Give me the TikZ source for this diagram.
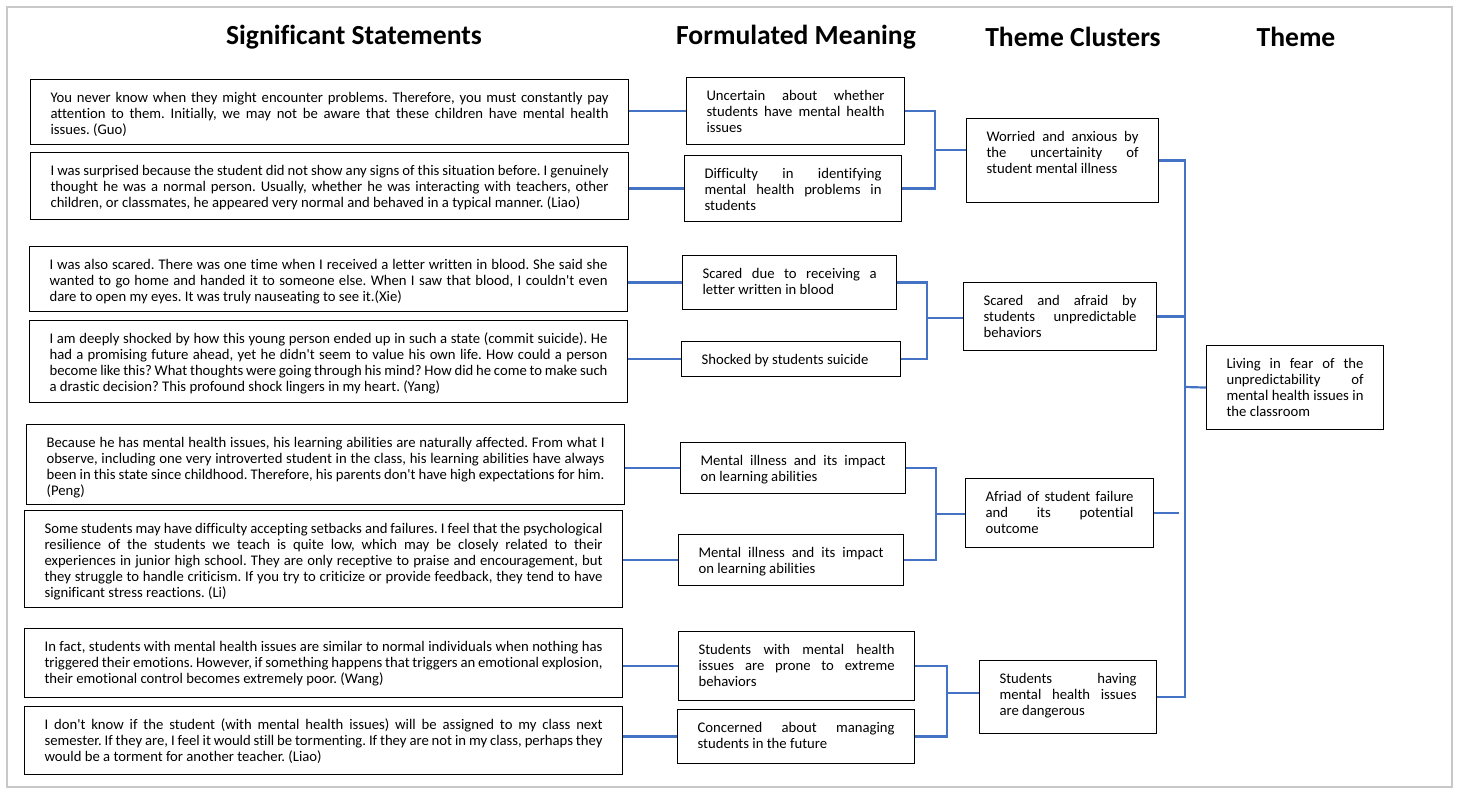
\documentclass[tikz,border=0pt]{standalone}
\usepackage{fontspec}
\setmainfont{Carlito}[Ligatures={TeXOff,CommonOff}]
\usepackage{xcolor}
\definecolor{linkblue}{RGB}{68,114,196}
\definecolor{framegray}{RGB}{200,200,200}
\hbadness=10000
\hfuzz=20pt
\frenchspacing

\begin{document}
\begin{tikzpicture}[x=1pt, y=-1pt,
    box/.style={draw, line width=1.1pt, anchor=north west, align=justify,
        inner xsep=20pt, inner ysep=0pt, text height=23pt,
        font=\fontsize{14.7}{16.1}\selectfont},
    stmt/.style={box, text width=558pt},
    title/.style={font=\fontsize{27.6}{32}\selectfont\bfseries},
    link/.style={linkblue, line width=2.2pt}]
    \useasboundingbox (0,0) rectangle (1460,795);
    % Moldura
    \draw[framegray, line width=1.2pt] (7,7) rectangle (1452,787);
    % Títulos
    \node[title] (h1) at (354,37) {Significant Statements};
    \node[title] (h2) at (796,37) {Formulated Meaning};
    \node[title] (h3) at (1073,37) {Theme Clusters};
    \node[title] (h4) at (1296,37) {Theme};
    % Significant statements
    \node[stmt, text depth=42pt] (s1) at (30,79) {You never know when they might encounter problems. Therefore, you must constantly pay\linebreak attention to them. Initially, we may not be aware that these children have mental health\linebreak issues. (Guo)};
    \node[stmt, text depth=44pt] (s2) at (30,152) {I was surprised because the student did not show any signs of this situation before. I genuinely\linebreak thought he was a normal person. Usually, whether he was interacting with teachers, other\linebreak children, or classmates, he appeared very normal and behaved in a typical manner. (Liao)};
    \node[stmt, text depth=42pt] (s3) at (29,246) {I was also scared. There was one time when I received a letter written in blood. She said she\linebreak wanted to go home and handed it to someone else. When I saw that blood, I couldn't even\linebreak dare to open my eyes. It was truly nauseating to see it.(Xie)};
    \node[stmt, text depth=59pt] (s4) at (29,320) {I am deeply shocked by how this young person ended up in such a state (commit suicide). He\linebreak had a promising future ahead, yet he didn't seem to value his own life. How could a person\linebreak become like this? What thoughts were going through his mind? How did he come to make such\linebreak a drastic decision? This profound shock lingers in my heart. (Yang)};
    \node[stmt, text depth=57pt] (s5) at (26,424) {Because he has mental health issues, his learning abilities are naturally affected. From what I\linebreak observe, including one very introverted student in the class, his learning abilities have always\linebreak been in this state since childhood. Therefore, his parents don't have high expectations for him.\linebreak (Peng)};
    \node[stmt, text depth=74pt] (s6) at (24,510) {Some students may have difficulty accepting setbacks and failures. I feel that the psychological\linebreak resilience of the students we teach is quite low, which may be closely related to their\linebreak experiences in junior high school. They are only receptive to praise and encouragement, but\linebreak they struggle to handle criticism. If you try to criticize or provide feedback, they tend to have\linebreak significant stress reactions. (Li)};
    \node[stmt, text depth=46pt] (s7) at (24,628) {In fact, students with mental health issues are similar to normal individuals when nothing has\linebreak triggered their emotions. However, if something happens that triggers an emotional explosion,\linebreak their emotional control becomes extremely poor. (Wang)};
    \node[stmt, text depth=45pt] (s8) at (24,706) {I don't know if the student (with mental health issues) will be assigned to my class next\linebreak semester. If they are, I feel it would still be tormenting. If they are not in my class, perhaps they\linebreak would be a torment for another teacher. (Liao)};
    % Formulated meaning
    \node[box, text width=178pt, text depth=44pt] (f1) at (686,77) {Uncertain about whether\linebreak students have mental health\linebreak issues};
    \node[box, text width=177pt, text depth=43pt] (f2) at (684,155) {Difficulty in identifying\linebreak mental health problems in\linebreak students};
    \node[box, text width=174pt, text depth=31pt] (f3) at (682,255) {Scared due to receiving a\linebreak letter written in blood};
    \node[box, text width=179pt, text depth=12pt] (f4) at (681,341) {Shocked by students suicide};
    \node[box, text width=185pt, text depth=28pt] (f5) at (680,442) {Mental illness and its impact\linebreak on learning abilities};
    \node[box, text width=185pt, text depth=28pt] (f6) at (678,534) {Mental illness and its impact\linebreak on learning abilities};
    \node[box, text width=196pt, text depth=46pt] (f7) at (678,631) {Students with mental health\linebreak issues are prone to extreme\linebreak behaviors};
    \node[box, text width=197pt, text depth=31pt] (f8) at (677,709) {Concerned about managing\linebreak students in the future};
    % Theme clusters
    \node[box, text width=152pt, text depth=61pt] (c1) at (966,118) {Worried and anxious by\linebreak the uncertainity of\linebreak student mental illness};
    \node[box, text width=153pt, text depth=45pt] (c2) at (963,282) {Scared and afraid by\linebreak students unpredictable\linebreak behaviors};
    \node[box, text width=148pt, text depth=46pt] (c3) at (965,478) {Afriad of student failure\linebreak and its potential\linebreak outcome};
    \node[box, text width=137pt, text depth=50pt] (c4) at (979,660) {Students having\linebreak mental health issues\linebreak are dangerous};
    % Theme
    \node[box, text width=137pt, text depth=61pt] (th) at (1206,345) {Living in fear of the\linebreak unpredictability of\linebreak mental health issues in\linebreak the classroom};
    % Ligações statement -> meaning
    \foreach \i in {1,...,8}
        \draw[link] (s\i.east |- f\i.west) -- (f\i.west);
    % Colchetes meaning -> cluster
    \coordinate (j1) at (935,150);
    \coordinate (j2) at (927,318);
    \coordinate (j3) at (936,514);
    \coordinate (j4) at (947,693);
    \draw[link] (f1.east) -| (j1) |- (f2.east);
    \draw[link] (f3.east) -| (j2) |- (f4.east);
    \draw[link] (f5.east) -| (j3) |- (f6.east);
    \draw[link] (f7.east) -| (j4) |- (f8.east);
    \foreach \i in {1,...,4}
        \draw[link] (j\i) -- (j\i -| c\i.west);
    % Eixo cluster -> theme
    \coordinate (sp) at (1185,387);
    \coordinate (gap) at (1179,0);
    \draw[link] (c1.east) -| (sp) |- (c4.east);
    \draw[link] (c2.east) -- (c2.east -| sp);
    \draw[link] (c3.east) -- (c3.east -| gap);
    \draw[link] (sp) -- (th.west);
\end{tikzpicture}
\end{document}
